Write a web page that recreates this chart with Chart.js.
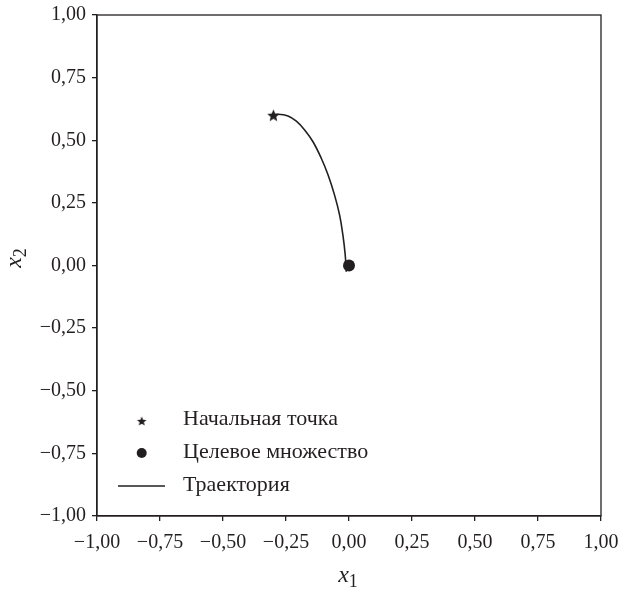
<!DOCTYPE html>
<html>
<head>
<meta charset="utf-8">
<script src="https://cdn.jsdelivr.net/npm/chart.js@4"></script>
<style>
  html, body { margin: 0; padding: 0; background: #fff; }
  #wrap { width: 621px; height: 589px; }
</style>
</head>
<body>
<div id="wrap"><canvas id="chart1" width="621" height="589"></canvas></div>
<script>
// trajectory
var trajX = [-0.300, -0.282, -0.242, -0.209, -0.176, -0.143, -0.110, -0.083, -0.057, -0.037, -0.024, -0.015, -0.011];
var trajY = [0.600, 0.604, 0.597, 0.576, 0.541, 0.494, 0.428, 0.361, 0.280, 0.200, 0.120, 0.042, -0.025];
var startPoint = [-0.3, 0.6];
var targetPoint = [0, 0];
var tickValues = [-1, -0.75, -0.5, -0.25, 0, 0.25, 0.5, 0.75, 1];
var legendLabels = ['Начальная точка', 'Целевое множество', 'Траектория'];

var ink = '#231f20';
var serif = "'Liberation Serif', 'Times New Roman', serif";

function fmt(v) {
    return v.toFixed(2).replace('.', ',').replace('-', '\u2212');
}

function makeStar(r) {
    var c = document.createElement('canvas');
    var s = Math.ceil(r * 2 + 2);
    c.width = s; c.height = s;
    var g = c.getContext('2d');
    g.fillStyle = ink;
    g.beginPath();
    for (var i = 0; i < 10; i++) {
        var rr = i % 2 ? r * 0.45 : r;
        var a = -Math.PI / 2 + i * Math.PI / 5;
        g.lineTo(s / 2 + rr * Math.cos(a), s / 2 + rr * Math.sin(a) + r * 0.1);
    }
    g.closePath();
    g.fill();
    return c;
}
var plotStar = makeStar(6.5);
var legendStar = makeStar(5);

var trajectory = trajX.map(function (x, i) { return { x: x, y: trajY[i] }; });

// box, legend and axis titles
var extras = {
    id: 'extras',
    afterDraw: function (chart) {
        var c = chart.ctx, a = chart.chartArea;
        c.save();
        c.strokeStyle = ink;
        c.lineWidth = 1.3;
        c.strokeRect(a.left, a.top, a.right - a.left, a.bottom - a.top);

        // legend
        c.fillStyle = ink;
        c.font = '22px ' + serif;
        c.textBaseline = 'middle';
        var rows = [419, 452, 485];
        c.drawImage(legendStar, 141.7 - legendStar.width / 2, rows[0] + 2 - legendStar.height / 2);
        c.beginPath();
        c.arc(141.7, rows[1] + 1, 5, 0, Math.PI * 2);
        c.fill();
        c.beginPath();
        c.lineWidth = 1.5;
        c.moveTo(118, rows[2] + 1);
        c.lineTo(165, rows[2] + 1);
        c.stroke();
        for (var i = 0; i < legendLabels.length; i++) {
            c.fillText(legendLabels[i], 183, rows[i]);
        }

        // x1
        c.textBaseline = 'alphabetic';
        c.font = 'italic 24px ' + serif;
        var wx = c.measureText('x').width;
        c.font = '18px ' + serif;
        var w1 = c.measureText('1').width;
        var x0 = 348 - (wx + w1) / 2;
        c.font = 'italic 24px ' + serif;
        c.fillText('x', x0, 582);
        c.font = '18px ' + serif;
        c.fillText('1', x0 + wx, 587);

        // x2
        c.translate(21, 258);
        c.rotate(-Math.PI / 2);
        c.font = 'italic 24px ' + serif;
        c.fillText('x', -(wx + w1) / 2, 0);
        c.font = '18px ' + serif;
        c.fillText('2', -(wx + w1) / 2 + wx, 5);
        c.restore();
    }
};

function axis(fit, pad) {
    return {
        type: 'linear',
        min: -1,
        max: 1,
        afterBuildTicks: function (s) { s.ticks = tickValues.map(function (v) { return { value: v }; }); },
        afterFit: fit,
        ticks: {
            callback: function (v) { return fmt(v); },
            color: ink,
            font: { family: serif, size: 20 },
            padding: pad,
            maxRotation: 0,
            autoSkip: false
        },
        grid: { drawOnChartArea: false, drawTicks: true, tickLength: 5, color: ink, lineWidth: 1.3 },
        border: { color: ink, width: 1.3 }
    };
}

var ctx = document.getElementById('chart1').getContext('2d');
var chart = new Chart(ctx, {
    type: 'scatter',
    data: {
        datasets: [{
            label: legendLabels[0],
            data: [{ x: startPoint[0], y: startPoint[1] }],
            pointStyle: plotStar,
            order: 0
        }, {
            label: legendLabels[1],
            data: [{ x: targetPoint[0], y: targetPoint[1] }],
            pointRadius: 6,
            backgroundColor: ink,
            borderWidth: 0,
            order: 1
        }, {
            label: legendLabels[2],
            data: trajectory,
            showLine: true,
            borderColor: ink,
            borderWidth: 1.6,
            pointRadius: 0,
            tension: 0.4,
            order: 2
        }]
    },
    options: {
        responsive: false,
        animation: false,
        layout: { padding: { top: 15, right: 20, left: 0, bottom: 0 } },
        plugins: { legend: { display: false }, tooltip: { enabled: false } },
        scales: {
            x: axis(function (s) { s.height = 73; s.paddingLeft = 0; s.paddingRight = 0; }, 10),
            y: axis(function (s) { s.width = 97; s.paddingTop = 0; s.paddingBottom = 0; }, 6)
        }
    },
    plugins: [extras]
});
</script>
</body>
</html>
